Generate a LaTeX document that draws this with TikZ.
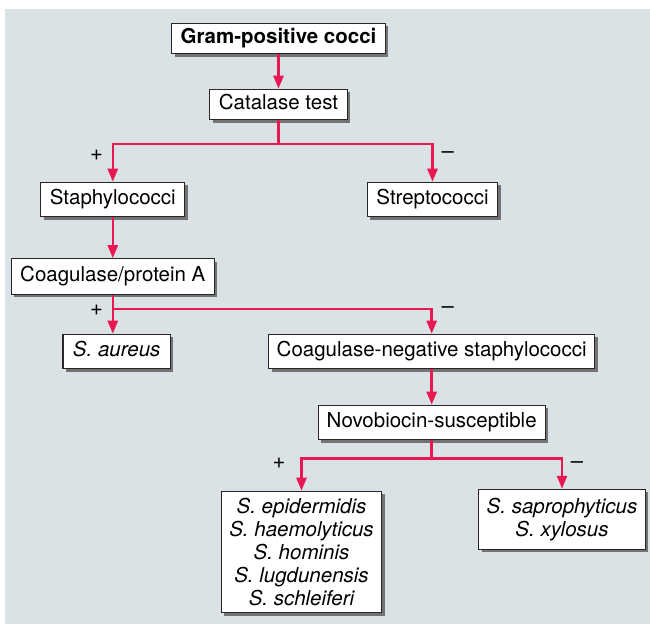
\documentclass[tikz,border=0pt]{standalone}
\usepackage{fontspec}
\setmainfont{TeX Gyre Heros}
\usetikzlibrary{arrows.meta,shadows}

\definecolor{panelgray}{RGB}{219,226,230}
\definecolor{flowred}{RGB}{232,24,82}

\tikzset{
  shadowbox/.style={draw=black!85, line width=1.1pt, fill=white,
    drop shadow={shadow xshift=3pt, shadow yshift=-3pt, fill=black!55, opacity=1}},
  box/.style={shadowbox, inner xsep=9pt, inner ysep=7.5pt, text height=15pt, text depth=4.5pt},
  listbox/.style={shadowbox, align=center, inner xsep=8pt, inner ysep=6.5pt,
    font=\fontsize{20.5}{23.2}\selectfont\itshape},
  link/.style={->, draw=flowred, line width=2.6pt},
  sign/.style={inner sep=0pt, font=\fontsize{22}{24}\selectfont}
}

\begin{document}
\begin{tikzpicture}[x=1pt, y=-1pt, >={Triangle[length=13pt,width=10pt]},
  font=\fontsize{20.5}{23.2}\selectfont]
  \useasboundingbox (0,0) rectangle (650,624);
  \fill[panelgray] (5,9) rectangle (650,624);

  % boxes
  \node[box, inner ysep=5.5pt, font=\fontsize{20.5}{23.2}\selectfont\bfseries] (gram) at (278.5,38.5) {Gram-positive cocci};
  \node[box, inner ysep=5.5pt] (catalase) at (278.5,104.5) {Catalase test};
  \node[box] (staph) at (112.8,199.5) {Staphylococci};
  \node[box] (strep) at (432.5,199.5) {Streptococci};
  \node[box, inner ysep=8pt] (coag) at (112.8,276.5) {Coagulase/protein A};
  \node[box, inner xsep=10pt, font=\fontsize{20.5}{23.2}\selectfont\itshape] (aureus) at (116.7,351.5) {S. aureus};
  \node[box, inner xsep=8pt] (cons) at (431.7,351.5) {Coagulase-negative staphylococci};
  \node[box, inner xsep=8.5pt] (novo) at (431.7,422.5) {Novobiocin-susceptible};
  \node[listbox] (suscept) at (301.5,552) {S. epidermidis\\S. haemolyticus\\S. hominis\\S. lugdunensis\\S. schleiferi};
  \node[listbox, inner ysep=8.5pt] (resist) at (562,519.3) {S. saprophyticus\\S. xylosus};

  % forks
  \coordinate (fork1) at (278.5,144);
  \coordinate (fork2) at (112.8,309);
  \coordinate (fork3) at (431.7,458.3);

  \draw[link] (gram) -- (catalase);
  \draw[link, -] (catalase) -- (fork1);
  \draw[link] (fork1) -| (staph);
  \draw[link] (fork1) -| (strep);
  \draw[link] (staph) -- (coag);
  \draw[link, -] (coag) -- (fork2);
  \draw[link] (fork2) -- (fork2 |- aureus.north);
  \draw[link] (fork2) -| (cons);
  \draw[link] (cons) -- (novo);
  \draw[link, -] (novo) -- (fork3);
  \draw[link] (fork3) -| (suscept);
  \draw[link] (fork3) -| (resist);

  % signs
  \node[sign] (plus1) at (96.6,155) {+};
  \node[sign] (minus1) at (447.8,155) {--};
  \node[sign] (plus2) at (96.6,310) {+};
  \node[sign] (minus2) at (447.8,310) {--};
  \node[sign] (plus3) at (279,463) {+};
  \node[sign] (minus3) at (577,465) {--};
\end{tikzpicture}
\end{document}
